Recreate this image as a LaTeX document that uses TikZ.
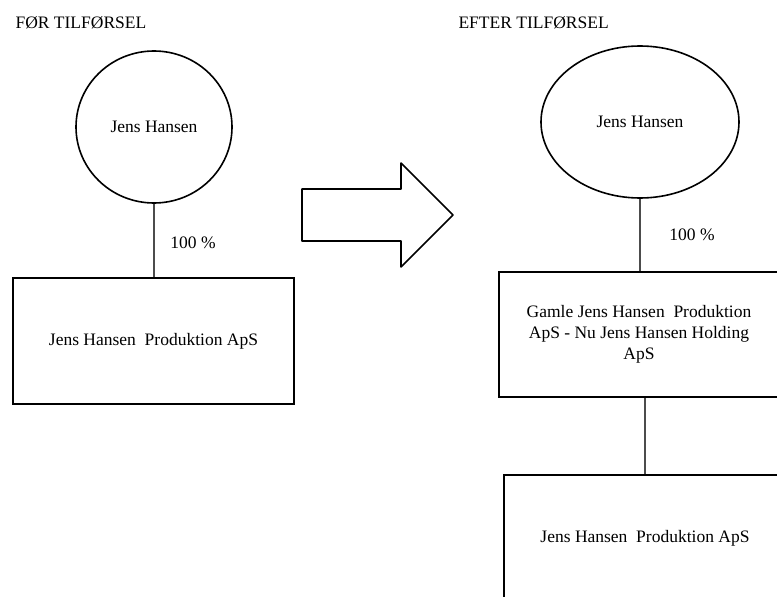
\documentclass[tikz,border=0pt]{standalone}
\usepackage{fontspec}
\setmainfont{Liberation Serif}
\usepackage{xcolor}
\usepackage{tikz}
\usepackage{tkz-euclide}
\usetikzlibrary{shapes.geometric}

\tikzset{
	ejer/.style={ellipse,draw,line width=1.6pt,inner sep=0pt},
	selskab/.style={rectangle,draw,line width=1.6pt,align=center,inner sep=0pt},
	streg/.style={draw=black!70,line width=1.2pt}
}

\begin{document}
\begin{tikzpicture}[x=1pt,y=-1pt,font=\fontsize{17.5}{21}\selectfont]
			\useasboundingbox (0,0) rectangle (777,597);
			\clip (0,0) rectangle (777,597);
			\node[anchor=base west] (foer) at (12,28.5) {FØR TILFØRSEL};
			\node[anchor=base west] (efter) at (455,28.5) {EFTER TILFØRSEL};
			\node[ejer,minimum width=156pt,minimum height=152pt] (jhA) at (154,127) {Jens Hansen};
			\node[selskab,minimum width=281pt,minimum height=126pt] (prodA) at (153.5,341) {Jens Hansen~ Produktion ApS};
			\node (pctA) at (193,243) {100 \%};
			\draw[streg] (jhA.south) -- (jhA.south |- prodA.north);
			\tkzDefPoint(302,189){P1}
			\tkzDefPoint(401,189){P2}
			\tkzDefPoint(401,163){P3}
			\tkzDefPoint(453,215){P4}
			\tkzDefPoint(401,267){P5}
			\tkzDefPoint(401,241){P6}
			\tkzDefPoint(302,241){P7}
			\tkzDrawPolygon[line width=1.6pt,color=black](P1,P2,P3,P4,P5,P6,P7)
			\node[ejer,minimum width=198pt,minimum height=152pt] (jhB) at (640,122) {Jens Hansen};
			\node[selskab,minimum width=280pt,minimum height=125pt] (holdB) at (639,334.5) {Gamle Jens Hansen~ Produktion\\ApS - Nu Jens Hansen Holding\\ApS};
			\node[selskab,minimum width=282pt,minimum height=126pt] (prodB) at (645,538) {Jens Hansen~ Produktion ApS};
			\node (pctB) at (692,235) {100 \%};
			\draw[streg] (jhB.south) -- (jhB.south |- holdB.north);
			\draw[streg] (prodB.north) -- (prodB.north |- holdB.south);
		\end{tikzpicture}
\end{document}
